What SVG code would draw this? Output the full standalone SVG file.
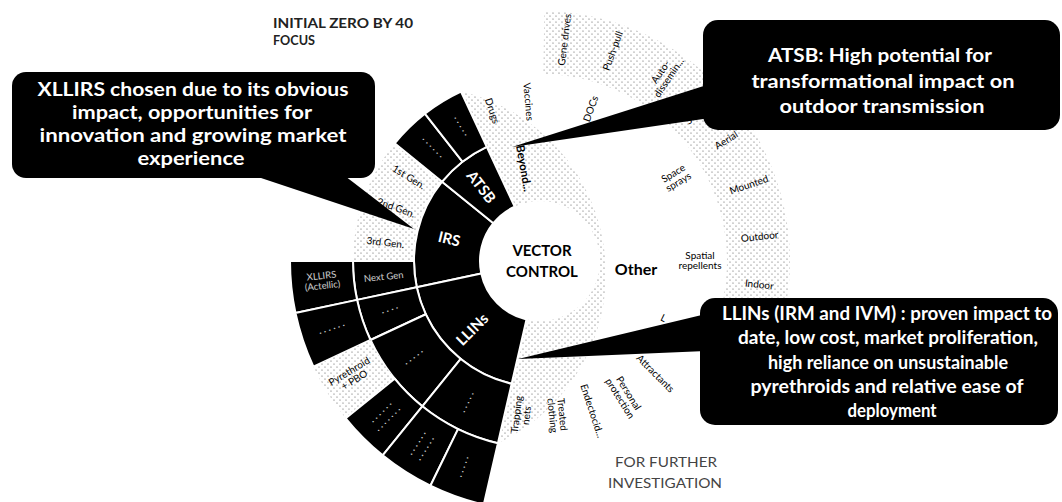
<svg xmlns="http://www.w3.org/2000/svg" width="1062" height="502" viewBox="0 0 1062 502">
<style>
.seg{fill:#000;stroke:#fff;stroke-width:2;stroke-linejoin:round}
.dot{fill:url(#dots);stroke:none}
.lbl{font-family:Lato,'Liberation Sans',sans-serif;font-size:10px;fill:#000;text-anchor:middle}
.wl{font-family:Lato,'Liberation Sans',sans-serif;font-size:9.5px;fill:#fff;text-anchor:middle;opacity:.8}
.r1{font-family:Lato,'Liberation Sans',sans-serif;font-size:15px;font-weight:bold;fill:#fff;text-anchor:middle}
.ctr{font-family:Lato,'Liberation Sans',sans-serif;font-size:15px;font-weight:bold;fill:#000;text-anchor:middle}
.co{fill:#000}
.cot{font-family:Lato,'Liberation Sans',sans-serif;font-weight:bold;fill:#fff;text-anchor:middle}
.c1{font-size:19px}
.c2{font-size:19.5px}
.c3{font-size:18px}
.hdr{font-family:Lato,'Liberation Sans',sans-serif;font-size:13.5px;font-weight:bold;fill:#222}
.ftr{font-family:Lato,'Liberation Sans',sans-serif;font-size:13.5px;fill:#444;text-anchor:middle}
</style>
<defs>
<pattern id="dots" patternUnits="userSpaceOnUse" width="6" height="6">
<circle cx="1" cy="1" r="0.6" fill="#555"/>
<circle cx="4" cy="4" r="0.6" fill="#555"/>
</pattern>
</defs>
<rect width="1062" height="502" fill="#fff"/>

<g id="other">
<path class="dot" d="M460.97,91.52 A187,187 0 0 1 497.93,443.21 L526.50,319.46 A60,60 0 1 0 514.64,206.62 Z"/>
<path class="dot" d="M544.36,11.04 A250,250 0 0 1 784.54,312.98 L722.91,299.88 A187,187 0 0 0 543.26,74.03 Z"/>
<text class="ctr" x="636" y="275" style="font-size:16px">Other</text>
<text class="lbl" transform="translate(520,169) rotate(80)" style="font-size:11.5px;font-weight:bold">Beyond...</text>
<text class="lbl" transform="translate(489,112) rotate(71)">Drugs</text>
<text class="lbl" transform="translate(525,102) rotate(85)">Vaccines</text>
<text class="lbl" transform="translate(594,110) rotate(-70)">DOCs</text>
<text class="lbl" transform="translate(568,40) rotate(-83)">Gene drives</text>
<text class="lbl" transform="translate(616,52) rotate(-70)">Push-pull</text>
<text class="lbl" transform="translate(665,75) rotate(-56)"><tspan x="0" dy="-2">Auto-</tspan><tspan x="0" dy="10">dissemin...</tspan></text>
<text class="lbl" transform="translate(689,125) rotate(-43)" style="text-anchor:start">Sugar</text>
<text class="lbl" transform="translate(728,143) rotate(-32)">Aerial</text>
<text class="lbl" transform="translate(676,178) rotate(-31)"><tspan x="0" dy="-2">Space</tspan><tspan x="0" dy="10">sprays</tspan></text>
<text class="lbl" transform="translate(750,188) rotate(-19)">Mounted</text>
<text class="lbl" transform="translate(760,240) rotate(-6)">Outdoor</text>
<text class="lbl" transform="translate(700,261)"><tspan x="0" dy="-2">Spatial</tspan><tspan x="0" dy="10">repellents</tspan></text>
<text class="lbl" transform="translate(759,288) rotate(6)">Indoor</text>
<text class="lbl" transform="translate(662,321) rotate(26)">L</text>
<text class="lbl" transform="translate(653,376) rotate(45)">Attractants</text>
<text class="lbl" transform="translate(624,396) rotate(58)"><tspan x="0" dy="-2">Personal</tspan><tspan x="0" dy="10">protection</tspan></text>
<text class="lbl" transform="translate(589,412) rotate(72)">Endectocid...</text>
<text class="lbl" transform="translate(557,415) rotate(84)"><tspan x="0" dy="-2">Treated</tspan><tspan x="0" dy="10">clothing</tspan></text>
<text class="lbl" transform="translate(522,415) rotate(-83)"><tspan x="0" dy="-2">Trapping</tspan><tspan x="0" dy="10">nets</tspan></text>
</g>

<g id="irs">
<path class="dot" d="M353,261 A187,187 0 0 1 394.67,143.32 L442.08,181.71 A126,126 0 0 0 414,261 Z"/>
<path class="seg" d="M416.75,287.20 A126,126 0 0 1 442.08,181.71 L493.37,223.24 A60,60 0 0 0 481.31,273.47 Z"/>
<path class="seg" d="M357.09,299.88 A187,187 0 0 1 353,261 L414,261 A126,126 0 0 0 416.75,287.20 Z"/>
<path class="seg" d="M295.46,312.98 A250,250 0 0 1 290,261 L353,261 A187,187 0 0 0 357.09,299.88 Z"/>
<text class="r1" transform="translate(448,244) rotate(13.5)">IRS</text>
<text class="lbl" transform="translate(407,180) rotate(32)">1st Gen.</text>
<text class="lbl" transform="translate(395,211) rotate(20)">2nd Gen.</text>
<text class="lbl" transform="translate(385,246) rotate(6.5)">3rd Gen.</text>
<text class="wl" transform="translate(384,280) rotate(-6)">Next Gen</text>
<text class="wl" transform="translate(322,281) rotate(-6)"><tspan x="0" dy="-2">XLLIRS</tspan><tspan x="0" dy="10">(Actellic)</tspan></text>
</g>

<g id="atsb">
<path class="seg" d="M442.08,181.71 A126,126 0 0 1 486.75,146.80 L514.64,206.62 A60,60 0 0 0 493.37,223.24 Z"/>
<path class="seg" d="M394.67,143.32 A187,187 0 0 1 424.87,113.64 L462.43,161.71 A126,126 0 0 0 442.08,181.71 Z"/>
<path class="seg" d="M424.87,113.64 A187,187 0 0 1 460.97,91.52 L486.75,146.80 A126,126 0 0 0 462.43,161.71 Z"/>
<text class="r1" transform="translate(481,187) rotate(52)" dy="5">ATSB</text>
<text class="wl" transform="translate(430,150) rotate(45.5)">· · · · · ·</text>
<text class="wl" transform="translate(458,128) rotate(58.5)">· · · · ·</text>
</g>

<g id="llins">
<path class="seg" d="M511.66,383.77 A126,126 0 0 1 416.75,287.20 L481.31,273.47 A60,60 0 0 0 526.50,319.46 Z"/>
<path class="seg" d="M370.52,340.03 A187,187 0 0 1 357.09,299.88 L416.75,287.20 A126,126 0 0 0 425.80,314.25 Z"/>
<path class="seg" d="M422.32,406.33 A187,187 0 0 1 370.52,340.03 L425.80,314.25 A126,126 0 0 0 460.71,358.92 Z"/>
<path class="seg" d="M497.93,443.21 A187,187 0 0 1 422.32,406.33 L460.71,358.92 A126,126 0 0 0 511.66,383.77 Z"/>
<path class="seg" d="M313.42,366.66 A250,250 0 0 1 295.46,312.98 L357.09,299.88 A187,187 0 0 0 370.52,340.03 Z"/>
<path class="dot" d="M345.71,418.33 A250,250 0 0 1 313.42,366.66 L370.52,340.03 A187,187 0 0 0 394.67,378.68 Z"/>
<path class="seg" d="M382.67,455.29 A250,250 0 0 1 345.71,418.33 L394.67,378.68 A187,187 0 0 0 422.32,406.33 Z"/>
<path class="seg" d="M430.41,485.70 A250,250 0 0 1 382.67,455.29 L422.32,406.33 A187,187 0 0 0 458.02,429.07 Z"/>
<path class="seg" d="M483.76,504.59 A250,250 0 0 1 430.41,485.70 L458.02,429.07 A187,187 0 0 0 497.93,443.21 Z"/>
<text class="r1" transform="translate(476,333) rotate(-45)">LLINs</text>
<text class="wl" transform="translate(391,313) rotate(-18.5)">· · · ·</text>
<text class="wl" transform="translate(416,360) rotate(-38)">· · · · ·</text>
<text class="wl" transform="translate(471,404) rotate(-64)">· · · · ·</text>
<text class="wl" transform="translate(333,332) rotate(-18.5)">· · · · · ·</text>
<text class="lbl" transform="translate(352,376) rotate(-31)"><tspan x="0" dy="-2">Pyrethroid</tspan><tspan x="0" dy="10">+ PBO</tspan></text>
<text class="wl" transform="translate(386,417) rotate(-45)"><tspan x="0" dy="-3">· · · · · ·</tspan><tspan x="0" dy="10">· · · · · · ·</tspan></text>
<text class="wl" transform="translate(423,447) rotate(-57.5)"><tspan x="0" dy="-3">· · · · · ·</tspan><tspan x="0" dy="10">· · · · · ·</tspan></text>
<text class="wl" transform="translate(467,468) rotate(-70.5)">· · · · ·</text>
</g>

<g id="center">
<text class="ctr" x="542" y="256">VECTOR</text>
<text class="ctr" x="542" y="277">CONTROL</text>
</g>

<g id="headings">
<text class="hdr" x="273" y="28" textLength="140" lengthAdjust="spacingAndGlyphs">INITIAL ZERO BY 40</text>
<text class="hdr" x="273" y="45" textLength="42" lengthAdjust="spacingAndGlyphs">FOCUS</text>
<text class="ftr" x="666" y="467" textLength="102" lengthAdjust="spacingAndGlyphs">FOR FURTHER</text>
<text class="ftr" x="665" y="488" textLength="114" lengthAdjust="spacingAndGlyphs">INVESTIGATION</text>
</g>

<g id="connectors">
<polygon class="co" points="255,176 345,176 414,229"/>
<polygon class="co" points="710,84 710,118 512,147"/>
<polygon class="co" points="706,314 706,351 518,359"/>
</g>

<g id="callout-irs">
<rect class="co" x="12" y="72" width="363" height="106" rx="14"/>
<text class="cot c1" x="193" y="96" textLength="311" lengthAdjust="spacingAndGlyphs">XLLIRS chosen due to its obvious</text>
<text class="cot c1" x="192" y="119" textLength="240" lengthAdjust="spacingAndGlyphs">impact, opportunities for</text>
<text class="cot c1" x="193" y="142" textLength="307" lengthAdjust="spacingAndGlyphs">innovation and growing market</text>
<text class="cot c1" x="191" y="165" textLength="107" lengthAdjust="spacingAndGlyphs">experience</text>
</g>

<g id="callout-atsb">
<rect class="co" x="703" y="20" width="357" height="110" rx="15"/>
<text class="cot c2" x="880" y="62" textLength="224" lengthAdjust="spacingAndGlyphs">ATSB: High potential for</text>
<text class="cot c2" x="883" y="88" textLength="263" lengthAdjust="spacingAndGlyphs">transformational impact on</text>
<text class="cot c2" x="882" y="113" textLength="205" lengthAdjust="spacingAndGlyphs">outdoor transmission</text>
</g>

<g id="callout-llins">
<rect class="co" x="700" y="298" width="358" height="127" rx="15"/>
<text class="cot c3" x="887" y="320" textLength="330" lengthAdjust="spacingAndGlyphs">LLINs (IRM and IVM) : proven impact to</text>
<text class="cot c3" x="888" y="344" textLength="300" lengthAdjust="spacingAndGlyphs">date, low cost, market proliferation,</text>
<text class="cot c3" x="888" y="369" textLength="240" lengthAdjust="spacingAndGlyphs">high reliance on unsustainable</text>
<text class="cot c3" x="887" y="393" textLength="273" lengthAdjust="spacingAndGlyphs">pyrethroids and relative  ease of</text>
<text class="cot c3" x="892" y="417" textLength="89" lengthAdjust="spacingAndGlyphs">deployment</text>
</g>
</svg>
